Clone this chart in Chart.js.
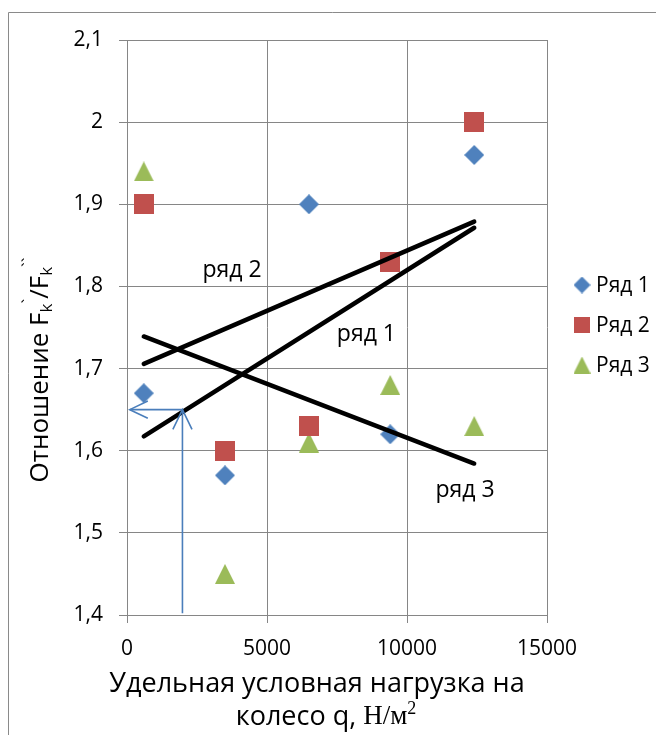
<!DOCTYPE html>
<html>
<head>
<meta charset="utf-8">
<script src="https://cdn.jsdelivr.net/npm/chart.js@4/dist/chart.umd.min.js"></script>
<style>
  html, body { margin: 0; padding: 0; background: #ffffff; }
  #wrap { width: 656px; height: 735px; }
</style>
</head>
<body>
<div id="wrap"><canvas id="chart" width="656" height="735"></canvas></div>
<script>
// Specific conventional wheel load, N/m^2
const loads = [600, 3500, 6500, 9400, 12400];
// Ratio Fk`/Fk`` for each series
const row1 = [1.67, 1.57, 1.90, 1.62, 1.96];
const row2 = [1.90, 1.60, 1.63, 1.83, 2.00];
const row3 = [1.94, 1.45, 1.61, 1.68, 1.63];
const seriesNames = ['Ряд 1', 'Ряд 2', 'Ряд 3'];
const trendNames = ['ряд 1', 'ряд 2', 'ряд 3'];
// where each trend line caption sits, in axis units
const trendLabelAt = [
  { x: 8550, y: 1.741 },
  { x: 3750, y: 1.82 },
  { x: 12070, y: 1.552 }
];
const xTicks = [0, 5000, 10000, 15000];
const yTicks = [1.4, 1.5, 1.6, 1.7, 1.8, 1.9, 2.0, 2.1];
// read-out: up from q to the trend line, then across to the ratio axis
const readout = [
  { x: 1980, y: 1.402 },
  { x: 1980, y: 1.65 },
  { x: 100, y: 1.65 }
];

const BLUE = '#4f81bd', RED = '#c0504d', GREEN = '#9bbb59';
const GRID = '#868686';
const SANS = '"Open Sans", "DejaVu Sans", sans-serif';

function markerCanvas(kind, color, s) {
  const c = document.createElement('canvas');
  c.width = s; c.height = s;
  const g = c.getContext('2d');
  g.fillStyle = color;
  g.beginPath();
  if (kind === 'diamond') {
    g.moveTo(s / 2, 0); g.lineTo(s, s / 2); g.lineTo(s / 2, s); g.lineTo(0, s / 2);
  } else if (kind === 'square') {
    g.rect(0, 0, s, s);
  } else {
    g.moveTo(s / 2, 0); g.lineTo(s, s); g.lineTo(0, s);
  }
  g.closePath();
  g.fill();
  return c;
}
const plotMarks = [
  markerCanvas('diamond', BLUE, 20),
  markerCanvas('square', RED, 20),
  markerCanvas('triangle', GREEN, 20)
];
const legendMarks = [
  markerCanvas('diamond', BLUE, 17),
  markerCanvas('square', RED, 16),
  markerCanvas('triangle', GREEN, 17)
];

function pairs(ys) { return loads.map((x, i) => ({ x: x, y: ys[i] })); }

// least-squares linear trend across the measured load range
function trend(ys) {
  const n = loads.length;
  const mx = loads.reduce((a, b) => a + b, 0) / n;
  const my = ys.reduce((a, b) => a + b, 0) / n;
  let sxy = 0, sxx = 0;
  for (let i = 0; i < n; i++) {
    sxy += (loads[i] - mx) * (ys[i] - my);
    sxx += (loads[i] - mx) * (loads[i] - mx);
  }
  const k = sxy / sxx;
  const x0 = Math.min(...loads), x1 = Math.max(...loads);
  return [{ x: x0, y: my + k * (x0 - mx) }, { x: x1, y: my + k * (x1 - mx) }];
}

const rows = [row1, row2, row3];
const datasets = [];
rows.forEach((ys, i) => {
  datasets.push({
    label: seriesNames[i],
    data: pairs(ys),
    pointStyle: plotMarks[i],
    backgroundColor: [BLUE, RED, GREEN][i],
    showLine: false,
    order: 2
  });
});
rows.forEach((ys, i) => {
  datasets.push({
    label: trendNames[i],
    data: trend(ys),
    showLine: true,
    borderColor: '#000000',
    borderWidth: 4.5,
    borderCapStyle: 'round',
    pointRadius: 0,
    pointHoverRadius: 0,
    order: 1
  });
});
datasets.push({
  label: 'readout',
  data: readout,
  showLine: true,
  borderColor: '#4a7ebb',
  borderWidth: 1.6,
  pointRadius: 0,
  pointHoverRadius: 0,
  tension: 0,
  order: 0
});

function fmt(v) { return String(Math.round(v * 10) / 10).replace('.', ','); }

function arrowHead(ctx, tipX, tipY, dirX, dirY, len, halfAngle) {
  const a = Math.atan2(dirY, dirX);
  ctx.beginPath();
  ctx.moveTo(tipX - len * Math.cos(a - halfAngle), tipY - len * Math.sin(a - halfAngle));
  ctx.lineTo(tipX, tipY);
  ctx.lineTo(tipX - len * Math.cos(a + halfAngle), tipY - len * Math.sin(a + halfAngle));
  ctx.stroke();
}

// draws pieces of text left to right; each piece may be raised or lowered
function richText(ctx, parts, x, y) {
  let cx = x;
  parts.forEach(p => {
    ctx.font = p.font;
    ctx.fillText(p.t, cx, y + (p.dy || 0));
    cx += ctx.measureText(p.t).width + (p.gap || 0);
  });
  return cx - x;
}
function richWidth(ctx, parts) {
  let w = 0;
  parts.forEach(p => { ctx.font = p.font; w += ctx.measureText(p.t).width + (p.gap || 0); });
  return w;
}

const decor = {
  id: 'decor',
  beforeDraw(chart) {
    const ctx = chart.ctx;
    ctx.save();
    ctx.fillStyle = '#ffffff';
    ctx.fillRect(0, 0, chart.width, chart.height);
    ctx.restore();
  },
  afterDatasetsDraw(chart) {
    const ctx = chart.ctx;
    const xs = chart.scales.x, ys = chart.scales.y;
    ctx.save();
    // arrow heads on the read-out path
    ctx.strokeStyle = '#4a7ebb';
    ctx.lineWidth = 1.6;
    const up = { x: xs.getPixelForValue(readout[1].x), y: ys.getPixelForValue(readout[1].y) };
    const left = { x: xs.getPixelForValue(readout[2].x), y: ys.getPixelForValue(readout[2].y) };
    arrowHead(ctx, up.x, up.y, 0, -1, 22, 0.45);
    arrowHead(ctx, left.x, left.y, -1, 0, 20, 0.45);

    // trend captions
    ctx.fillStyle = '#000000';
    ctx.font = '23px ' + SANS;
    ctx.textAlign = 'center';
    ctx.textBaseline = 'middle';
    trendLabelAt.forEach((p, i) => {
      ctx.fillText(trendNames[i], xs.getPixelForValue(p.x), ys.getPixelForValue(p.y));
    });
    ctx.restore();
  },
  afterDraw(chart) {
    const ctx = chart.ctx;
    ctx.save();
    // outer frame
    ctx.strokeStyle = '#8a8a8a';
    ctx.lineWidth = 1;
    ctx.beginPath();
    ctx.moveTo(8.5, chart.height);
    ctx.lineTo(8.5, 12.5);
    ctx.lineTo(chart.width, 12.5);
    ctx.stroke();

    // legend
    ctx.fillStyle = '#000000';
    ctx.font = '21px ' + SANS;
    ctx.textAlign = 'left';
    ctx.textBaseline = 'middle';
    const legendY = [285, 325, 365];
    seriesNames.forEach((name, i) => {
      const m = legendMarks[i];
      ctx.drawImage(m, 582 - m.width / 2, legendY[i] - m.height / 2);
      ctx.fillText(name, 596, legendY[i] + 1);
    });

    // x axis title
    ctx.textBaseline = 'middle';
    ctx.textAlign = 'left';
    const tf = '27px ' + SANS;
    const line1 = [{ t: 'Удельная условная нагрузка на', font: tf }];
    const w1 = richWidth(ctx, line1);
    richText(ctx, line1, 317 - w1 / 2, 684);
    const line2 = [
      { t: 'колесо q, ', font: tf },
      { t: 'Н/м', font: '27px "Liberation Serif", serif' },
      { t: '2', font: '18px "Liberation Serif", serif', dy: -8 }
    ];
    const w2 = richWidth(ctx, line2);
    richText(ctx, line2, 326 - w2 / 2, 717);

    // y axis title, rotated
    const yf = '26px ' + SANS;
    const sub = '17px ' + SANS;
    const yParts = [
      { t: 'Отношение F', font: yf },
      { t: 'k', font: sub, dy: 6 },
      { t: '`', font: sub, dy: -12 },
      { t: '/F', font: yf },
      { t: 'k', font: sub, dy: 6 },
      { t: '``', font: sub, dy: -12 }
    ];
    const wy = richWidth(ctx, yParts);
    ctx.translate(41, 370);
    ctx.rotate(-Math.PI / 2);
    richText(ctx, yParts, -wy / 2, 0);
    ctx.restore();
  }
};

new Chart(document.getElementById('chart'), {
  type: 'scatter',
  data: { datasets: datasets },
  options: {
    responsive: false,
    animation: false,
    devicePixelRatio: 1,
    layout: { padding: { left: 0, top: 40, right: 109, bottom: 0 } },
    plugins: { legend: { display: false }, tooltip: { enabled: false } },
    scales: {
      x: {
        type: 'linear',
        min: 0, max: 15000,
        afterBuildTicks: s => { s.ticks = xTicks.map(v => ({ value: v })); },
        afterFit: s => { s.height = 120; },
        grid: { color: GRID, lineWidth: 1, tickLength: 8, tickColor: GRID },
        border: { color: GRID, width: 1 },
        ticks: { color: '#000', font: { family: SANS, size: 21 }, padding: 13, maxRotation: 0, autoSkip: false, callback: v => String(v) }
      },
      y: {
        type: 'linear',
        min: 1.4, max: 2.1,
        afterBuildTicks: s => { s.ticks = yTicks.map(v => ({ value: v })); },
        afterFit: s => { s.width = 127; },
        grid: { color: GRID, lineWidth: 1, tickLength: 8, tickColor: GRID },
        border: { color: GRID, width: 1 },
        ticks: { color: '#000', font: { family: SANS, size: 21 }, padding: 16, callback: v => fmt(v), autoSkip: false }
      }
    }
  },
  plugins: [decor]
});
</script>
</body>
</html>
